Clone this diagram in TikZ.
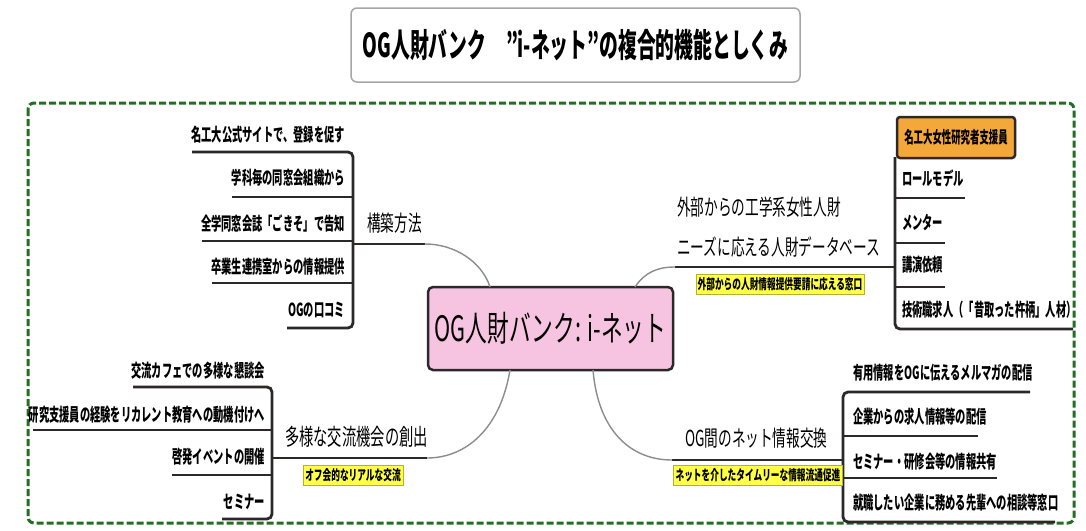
\documentclass[tikz,border=0pt]{standalone}
\usepackage{fontspec}
\newfontfamily\jpi[FakeStretch=0.57]{Noto Sans CJK JP}
\newfontfamily\jpb[FakeStretch=0.62]{Noto Sans CJK JP}
\definecolor{bordergreen}{RGB}{34,110,34}
\definecolor{pinkfill}{RGB}{246,196,224}
\definecolor{orangefill}{RGB}{245,168,58}
\definecolor{yellowfill}{RGB}{255,255,70}
\definecolor{darkline}{RGB}{45,40,40}
\definecolor{curvegray}{RGB}{140,140,140}
\tikzset{
  itemtext/.style={font=\jpi\bfseries\fontsize{18}{20}\selectfont, inner sep=0pt},
  branchtext/.style={font=\jpb\fontsize{22}{24}\selectfont, inner sep=0pt},
  yellowlabel/.style={fill=yellowfill, draw=yellowfill!70!black, line width=0.3pt, inner xsep=2pt, inner ysep=3pt, font=\jpb\bfseries\fontsize{14}{15}\selectfont},
  uline/.style={draw=darkline, line width=2.8pt},
  bracket/.style={draw=darkline, line width=2.8pt, rounded corners=5pt},
  curve/.style={draw=curvegray, line width=1.4pt},
}
\begin{document}
\begin{tikzpicture}[x=1pt,y=-1pt]
\useasboundingbox (0,0) rectangle (1086,530);
\fill[white] (0,0) rectangle (1086,530);

% title
\node[draw=gray!70, line width=1.5pt, rounded corners=6pt, minimum width=449pt, minimum height=74pt, fill=white,
      font=\jpi\bfseries\fontsize{33}{35}\selectfont] (title) at (575.5,45) {OG人財バンク\hspace{0.6em}”i-ネット”の複合的機能としくみ};

% dashed frame
\draw[bordergreen, line width=3pt, dash pattern=on 7pt off 3pt, rounded corners=6pt] (28,103) rectangle (1074,523);

% central node
\node[draw=darkline, fill=pinkfill, line width=2.5pt, rounded corners=5pt, minimum width=245pt, minimum height=83pt,
      font=\jpb\fontsize{35}{37}\selectfont] (center) at (550.5,328.5) {OG人財バンク: i-ネット};

% ---------- top-left: 構築方法 ----------
\coordinate (tlA) at (353,244);
\coordinate (tlB) at (425,244);
\coordinate (tlC) at (490,287);
\draw[bracket] (192,152) -- (353,152) -- (353,328) -- (287,328);
\draw[uline] (232,197) -- (353,197);
\draw[uline] (202,241) -- (353,241);
\draw[uline] (212,283) -- (353,283);
\draw[uline] (tlA) -- (tlB);
\draw[curve] (tlB) .. controls (455,244) and (482,262) .. (tlC);
\node[itemtext, anchor=east] (tl1) at (345,135) {名工大公式サイトで、登録を促す};
\node[itemtext, anchor=east] (tl2) at (345,178) {学科毎の同窓会組織から};
\node[itemtext, anchor=east] (tl3) at (345,223) {全学同窓会誌「ごきそ」で告知};
\node[itemtext, anchor=east] (tl4) at (345,267) {卒業生連携室からの情報提供};
\node[itemtext, anchor=east] (tl5) at (345,310) {OGの口コミ};
\node[branchtext, anchor=west] (tlL) at (367,223) {構築方法};

% ---------- top-right ----------
\coordinate (trA) at (675,267);
\coordinate (trB) at (895,267);
\coordinate (trC) at (635,287);
\draw[bracket] (895,157) -- (895,329) -- (1073,329);
\draw[uline] (895,198) -- (965,198);
\draw[uline] (895,243) -- (945,243);
\draw[uline] (895,287) -- (945,287);
\draw[uline] (trA) -- (trB);
\draw[curve] (trC) .. controls (645,272) and (658,267) .. (trA);
\node[branchtext, anchor=west] (trL1) at (677,207) {外部からの工学系女性人財};
\node[branchtext, anchor=west] (trL2) at (677,247) {ニーズに応える人財データベース};
\node[yellowlabel] (trY) at (780,284) {外部からの人財情報提供要請に応える窓口};
\node[draw=darkline, fill=orangefill, line width=2.5pt, rounded corners=3pt, minimum width=118pt, minimum height=41pt,
      font=\jpi\bfseries\fontsize{16.5}{18}\selectfont] (tr0) at (956,137.5) {名工大女性研究者支援員};
\node[itemtext, anchor=west] (tr1) at (902,178) {ロールモデル};
\node[itemtext, anchor=west] (tr2) at (902,223) {メンター};
\node[itemtext, anchor=west] (tr3) at (902,265) {講演依頼};
\node[itemtext, anchor=west] (tr4) at (902,310) {技術職求人（「昔取った杵柄」人材）};

% ---------- bottom-left ----------
\coordinate (blA) at (272,458);
\coordinate (blB) at (427,458);
\coordinate (blC) at (510,370);
\draw[bracket] (133,387) -- (272,387) -- (272,519) -- (222,519);
\draw[uline] (33,430) -- (272,430);
\draw[uline] (172,475) -- (272,475);
\draw[uline] (blA) -- (blB);
\draw[curve] (blB) .. controls (465,458) and (500,430) .. (blC);
\node[itemtext, anchor=east] (bl1) at (265,371) {交流カフェでの多様な懇談会};
\node[itemtext, anchor=east] (bl2) at (265,415) {研究支援員の経験をリカレント教育への動機付けへ};
\node[itemtext, anchor=east] (bl3) at (265,457) {啓発イベントの開催};
\node[itemtext, anchor=east] (bl4) at (265,502) {セミナー};
\node[branchtext, anchor=west, font=\jpb\fontsize{23}{25}\selectfont] (blL) at (285,437) {多様な交流機会の創出};
\node[yellowlabel] (blY) at (353,475) {オフ会的なリアルな交流};

% ---------- bottom-right ----------
\coordinate (brA) at (672,460);
\coordinate (brB) at (843,460);
\coordinate (brC) at (593,370);
\draw[bracket] (1030,392) -- (843,392) -- (843,522) -- (1055,522);
\draw[uline] (843,436) -- (978,436);
\draw[uline] (843,478) -- (997,478);
\draw[uline] (brA) -- (brB);
\draw[curve] (brC) .. controls (598,430) and (630,460) .. (brA);
\node[branchtext, anchor=west] (brL) at (685,438) {OG間のネット情報交換};
\node[yellowlabel] (brY) at (758,475) {ネットを介したタイムリーな情報流通促進};
\node[itemtext, anchor=west] (br1) at (853,373) {有用情報をOGに伝えるメルマガの配信};
\node[itemtext, anchor=west] (br2) at (853,417) {企業からの求人情報等の配信};
\node[itemtext, anchor=west] (br3) at (853,462) {セミナー・研修会等の情報共有};
\node[itemtext, anchor=west] (br4) at (853,503) {就職したい企業に務める先輩への相談等窓口};
\end{tikzpicture}
\end{document}
